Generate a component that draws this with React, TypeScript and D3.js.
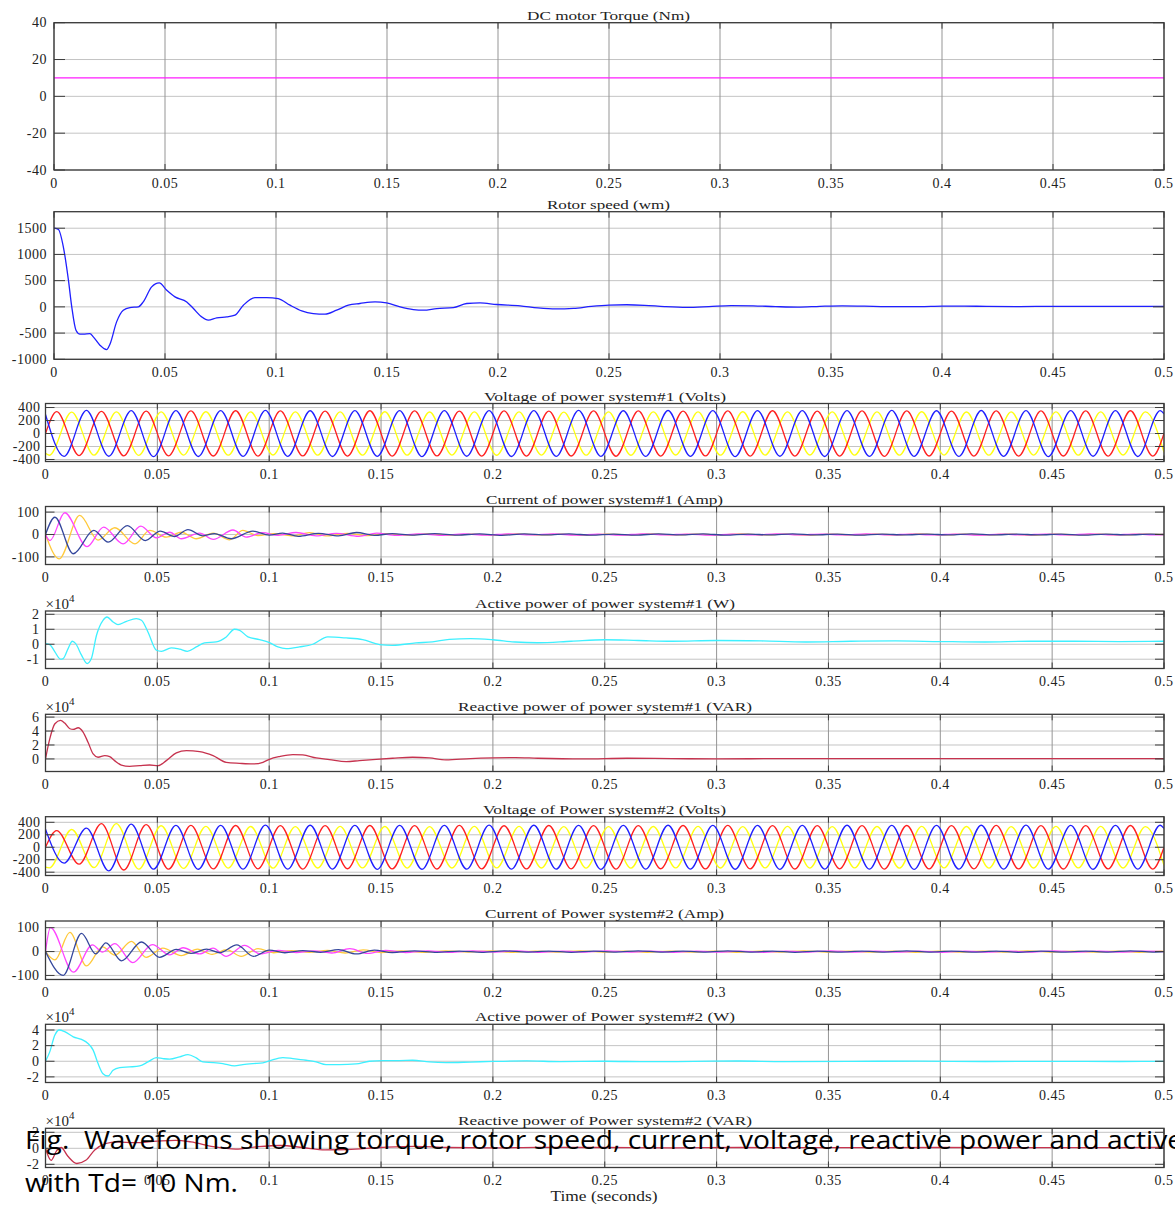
import React from "react";
import * as d3 from "d3";

type Pt = [number, number];

// ---- time axis (seconds) ----
const timeTicks = [0, 0.05, 0.1, 0.15, 0.2, 0.25, 0.3, 0.35, 0.4, 0.45, 0.5];
const timeTickLabels = ["0", "0.05", "0.1", "0.15", "0.2", "0.25", "0.3", "0.35", "0.4", "0.45", "0.5"];

// ---- DC motor torque (Nm) ----
const torque: Pt[] = [[0, 10], [0.5, 10]];

// ---- rotor speed (wm) ----
const rotorSpeed: Pt[] = [
  [0, 1500], [0.002, 1475], [0.0042, 1145], [0.0065, 509], [0.008, 0], [0.0099, -445], [0.0117, -520],
  [0.0132, -520], [0.0162, -509], [0.0177, -572], [0.0207, -731], [0.0237, -814], [0.0252, -712],
  [0.0282, -286], [0.0312, -64], [0.0342, -13], [0.038, 0], [0.0402, 95], [0.044, 382], [0.0474, 458],
  [0.0508, 318], [0.0545, 191], [0.0598, 95], [0.0628, -32], [0.0665, -191], [0.0695, -254],
  [0.0733, -210], [0.0778, -191], [0.0815, -159], [0.0853, 32], [0.0905, 178], [0.0958, 178],
  [0.101, 159], [0.1063, 32], [0.1116, -76], [0.1168, -127], [0.1221, -140], [0.1273, -64],
  [0.1326, 32], [0.1378, 64], [0.1446, 95], [0.1498, 76], [0.1559, 0], [0.1619, -51], [0.1664, -64],
  [0.1724, -32], [0.1799, -13], [0.1859, 64], [0.1919, 76], [0.1994, 45], [0.21, 20], [0.218, -20],
  [0.226, -40], [0.234, -30], [0.242, 10], [0.25, 35], [0.258, 40], [0.266, 30], [0.275, 5],
  [0.285, -10], [0.295, 5], [0.305, 25], [0.315, 20], [0.325, 5], [0.335, -5], [0.345, 10],
  [0.355, 20], [0.365, 15], [0.375, 5], [0.39, 5], [0.4, 15], [0.41, 15], [0.42, 8], [0.435, 5],
  [0.45, 10], [0.465, 10], [0.48, 8], [0.5, 8],
];

// ---- three-phase voltages: extremum times per phase ----
const vTimesA = [0, 0.005, 0.015, 0.025, 0.035, 0.045, 0.055, 0.065, 0.075, 0.085, 0.095,
  0.105, 0.115, 0.125, 0.135, 0.145, 0.155, 0.165, 0.175, 0.185, 0.195,
  0.205, 0.215, 0.225, 0.235, 0.245, 0.255, 0.265, 0.275, 0.285, 0.295,
  0.305, 0.315, 0.325, 0.335, 0.345, 0.355, 0.365, 0.375, 0.385, 0.395,
  0.405, 0.415, 0.425, 0.435, 0.445, 0.455, 0.465, 0.475, 0.485, 0.495, 0.5];
const vTimesB = [0, 0.0017, 0.0117, 0.0217, 0.0317, 0.0417, 0.0517, 0.0617, 0.0717, 0.0817, 0.0917,
  0.1017, 0.1117, 0.1217, 0.1317, 0.1417, 0.1517, 0.1617, 0.1717, 0.1817, 0.1917,
  0.2017, 0.2117, 0.2217, 0.2317, 0.2417, 0.2517, 0.2617, 0.2717, 0.2817, 0.2917,
  0.3017, 0.3117, 0.3217, 0.3317, 0.3417, 0.3517, 0.3617, 0.3717, 0.3817, 0.3917,
  0.4017, 0.4117, 0.4217, 0.4317, 0.4417, 0.4517, 0.4617, 0.4717, 0.4817, 0.4917, 0.5];
const vTimesC = [0, 0.0083, 0.0183, 0.0283, 0.0383, 0.0483, 0.0583, 0.0683, 0.0783, 0.0883, 0.0983,
  0.1083, 0.1183, 0.1283, 0.1383, 0.1483, 0.1583, 0.1683, 0.1783, 0.1883, 0.1983,
  0.2083, 0.2183, 0.2283, 0.2383, 0.2483, 0.2583, 0.2683, 0.2783, 0.2883, 0.2983,
  0.3083, 0.3183, 0.3283, 0.3383, 0.3483, 0.3583, 0.3683, 0.3783, 0.3883, 0.3983,
  0.4083, 0.4183, 0.4283, 0.4383, 0.4483, 0.4583, 0.4683, 0.4783, 0.4883, 0.4983, 0.5];

// power system #1 voltages (V)
const volt1Red = [0,
  338, -340, 342, -344, 346, -343, 348, -346, 350, -348,
  347, -345, 346, -348, 350, -349, 347, -345, 346, -348,
  349, -347, 345, -346, 348, -350, 349, -347, 346, -345,
  347, -349, 350, -348, 346, -347, 349, -351, 348, -346,
  345, -347, 349, -348, 347, -346, 348, -349, 350, -348, 0];
const volt1Yellow = [-305,
  -335, 330, -333, 332, -336, 334, -332, 335, -334, 333,
  -331, 334, -333, 332, -334, 335, -333, 331, -332, 334,
  -335, 333, -332, 330, -333, 334, -335, 333, -331, 332,
  -334, 335, -333, 332, -331, 333, -334, 332, -333, 335,
  -332, 331, -334, 333, -332, 334, -333, 332, -331, 333, -288];
const volt1Blue = [292,
  -352, 355, -350, 353, -356, 352, -354, 351, -353, 355,
  -352, 350, -354, 353, -351, 352, -355, 353, -350, 352,
  -354, 351, -353, 355, -352, 350, -353, 354, -351, 352,
  -355, 353, -350, 352, -354, 351, -353, 355, -352, 350,
  -353, 354, -351, 352, -355, 353, -350, 352, -354, 351, 304];

// power system #2 voltages (V)
const volt2Red = [0,
  268, -272, 378, -365, 362, -352, 350, -347, 349, -346,
  348, -350, 347, -345, 349, -348, 346, -349, 350, -347,
  345, -348, 349, -346, 348, -350, 347, -345, 349, -348,
  350, -347, 346, -349, 348, -346, 347, -350, 349, -347,
  348, -346, 350, -348, 347, -349, 346, -348, 349, -350, 0];
const volt2Yellow = [-318,
  -330, 285, -325, 378, -352, 345, -340, 336, -334, 333,
  -335, 332, -333, 334, -331, 333, -334, 332, -333, 335,
  -332, 334, -333, 331, -334, 332, -335, 333, -332, 334,
  -333, 331, -332, 335, -334, 332, -331, 333, -335, 334,
  -332, 333, -334, 331, -333, 335, -332, 334, -333, 332, -290];
const volt2Blue = [290,
  -255, 308, -378, 370, -352, 350, -353, 352, -351, 354,
  -352, 353, -350, 352, -354, 351, -353, 350, -352, 354,
  -351, 353, -352, 350, -354, 352, -351, 353, -350, 352,
  -353, 351, -354, 352, -350, 353, -352, 351, -354, 350,
  -352, 353, -351, 354, -352, 350, -353, 352, -351, 353, 302];

// ---- currents of power system #1 (A) ----
const cur1Navy: Pt[] = [
  [0, 0], [0.0042, 77], [0.0124, -86], [0.0216, 18], [0.028, -34], [0.0366, 40], [0.0446, -27],
  [0.0513, 15], [0.0577, -9], [0.0637, 22], [0.0704, -6], [0.0755, 4], [0.083, -19], [0.0927, 15],
  [0.1, -3], [0.106, 6], [0.113, -8], [0.122, 5], [0.131, -6], [0.139, 9], [0.147, -4], [0.155, 4],
  [0.164, -3], [0.174, 4], [0.184, -3], [0.194, 3], [0.204, -4], [0.214, 3], [0.224, -2], [0.234, 3],
  [0.244, -3], [0.254, 2], [0.264, -3], [0.274, 3], [0.284, -2], [0.294, 3], [0.304, -3], [0.314, 2],
  [0.324, -2], [0.334, 3], [0.344, -2], [0.354, 2], [0.364, -3], [0.374, 2], [0.384, -2], [0.394, 2],
  [0.404, -2], [0.414, 3], [0.424, -2], [0.434, 2], [0.444, -2], [0.454, 2], [0.464, -3], [0.474, 2],
  [0.484, -2], [0.494, 2], [0.5, 0],
];
const cur1Magenta: Pt[] = [
  [0, 0], [0.002, -27], [0.0086, 97], [0.0186, -54], [0.026, 33], [0.0347, -42], [0.0426, 37],
  [0.0496, -15], [0.0555, 10], [0.0607, -19], [0.0689, 6], [0.075, -22], [0.0838, 20], [0.0897, -12],
  [0.097, 8], [0.104, -4], [0.112, 9], [0.121, -6], [0.13, 5], [0.14, -8], [0.148, 6], [0.157, -4],
  [0.167, 3], [0.177, -4], [0.187, 3], [0.197, -3], [0.207, 3], [0.217, -2], [0.227, 3], [0.237, -3],
  [0.247, 2], [0.257, -3], [0.267, 3], [0.277, -2], [0.287, 2], [0.297, -3], [0.307, 2], [0.317, -2],
  [0.327, 3], [0.337, -2], [0.347, 2], [0.357, -2], [0.367, 3], [0.377, -2], [0.387, 2], [0.397, -2],
  [0.407, 2], [0.417, -3], [0.427, 2], [0.437, -2], [0.447, 2], [0.457, -2], [0.467, 3], [0.477, -2],
  [0.487, 2], [0.497, -2], [0.5, 0],
];
const cur1Gold: Pt[] = [
  [0, 0], [0.0061, -109], [0.0153, 85], [0.0235, -25], [0.031, 30], [0.04, -42], [0.0466, 18],
  [0.054, -12], [0.0607, 10], [0.0674, -19], [0.075, 6], [0.0823, -24], [0.0882, 18], [0.095, -5],
  [0.102, 4], [0.11, -6], [0.118, 8], [0.126, -6], [0.135, 5], [0.144, -5], [0.152, 4], [0.161, -3],
  [0.171, 3], [0.181, -3], [0.191, 2], [0.201, -3], [0.211, 3], [0.221, -2], [0.231, 2], [0.241, -3],
  [0.251, 2], [0.261, -2], [0.271, 3], [0.281, -2], [0.291, 2], [0.301, -2], [0.311, 3], [0.321, -2],
  [0.331, 2], [0.341, -3], [0.351, 2], [0.361, -2], [0.371, 2], [0.381, -2], [0.391, 3], [0.401, -2],
  [0.411, 2], [0.421, -2], [0.431, 2], [0.441, -3], [0.451, 2], [0.461, -2], [0.471, 2], [0.481, -2],
  [0.491, 2], [0.5, 0],
];

// ---- active / reactive power of power system #1 (x10^4) ----
const active1: Pt[] = [
  [0, 0.04], [0.0019, -0.02], [0.0042, -0.51], [0.0067, -1.0], [0.0079, -0.96], [0.0101, -0.29],
  [0.012, 0.2], [0.0135, 0.04], [0.0161, -0.73], [0.0186, -1.29], [0.0205, -0.96], [0.0228, 0.6],
  [0.0257, 1.6], [0.0275, 1.82], [0.0302, 1.49], [0.0324, 1.31], [0.0362, 1.53], [0.0406, 1.71],
  [0.0429, 1.6], [0.0458, 0.82], [0.0496, -0.4], [0.0518, -0.47], [0.0562, -0.24], [0.06, -0.33],
  [0.0634, -0.47], [0.0674, -0.18], [0.0711, 0.09], [0.0763, 0.16], [0.0808, 0.49], [0.0845, 1.0],
  [0.0868, 0.93], [0.0905, 0.49], [0.0957, 0.31], [0.1001, 0.11], [0.1039, -0.18], [0.1076, -0.29],
  [0.1135, -0.18], [0.1195, 0], [0.1262, 0.49], [0.1344, 0.42], [0.1418, 0.31], [0.1493, -0.02],
  [0.1552, -0.07], [0.1656, 0.09], [0.173, 0.16], [0.1805, 0.33], [0.19, 0.38], [0.2, 0.3],
  [0.21, 0.15], [0.22, 0.1], [0.235, 0.2], [0.25, 0.3], [0.265, 0.25], [0.28, 0.2], [0.3, 0.25],
  [0.32, 0.22], [0.34, 0.15], [0.36, 0.2], [0.38, 0.22], [0.4, 0.18], [0.42, 0.15], [0.44, 0.2],
  [0.46, 0.2], [0.48, 0.18], [0.5, 0.2],
];
const reactive1: Pt[] = [
  [0, 0], [0.0019, 2.88], [0.0042, 5.05], [0.0067, 5.53], [0.0086, 5.14], [0.0109, 4.33],
  [0.0124, 4.23], [0.0146, 4.47], [0.0168, 3.85], [0.019, 2.4], [0.0213, 0.72], [0.0235, 0.24],
  [0.0265, 0.48], [0.0287, 0.34], [0.0309, -0.24], [0.0339, -0.87], [0.0376, -1.06], [0.0421, -0.96],
  [0.0466, -0.87], [0.0503, -0.96], [0.054, -0.24], [0.0585, 0.87], [0.063, 1.2], [0.0689, 1.06],
  [0.0749, 0.48], [0.0808, -0.48], [0.0868, -0.63], [0.0927, -0.72], [0.0972, -0.48], [0.1001, -0.05],
  [0.1046, 0.34], [0.1106, 0.63], [0.115, 0.58], [0.121, 0.14], [0.1269, -0.1], [0.1344, -0.38],
  [0.1403, -0.24], [0.1478, -0.05], [0.1552, 0.1], [0.1641, 0.24], [0.1716, 0.14], [0.179, -0.14],
  [0.19, 0.05], [0.2, 0.15], [0.21, 0.2], [0.22, 0.1], [0.24, 0], [0.26, 0.1], [0.28, 0.05],
  [0.3, 0], [0.33, 0.06], [0.36, 0.04], [0.4, 0.05], [0.44, 0.04], [0.5, 0.05],
];

// ---- currents of power system #2 (A) ----
const cur2Magenta: Pt[] = [
  [0, 0], [0.0022, 100], [0.0125, -86], [0.021, 28], [0.0255, -2], [0.031, 33], [0.039, -46],
  [0.0478, 29], [0.0555, -14], [0.0615, 16], [0.0689, -10], [0.0749, 14], [0.0808, -20], [0.089, 26],
  [0.096, -10], [0.104, 5], [0.112, -4], [0.12, 3], [0.128, -6], [0.136, 12], [0.144, -8], [0.152, 5],
  [0.161, -4], [0.171, 3], [0.181, -3], [0.191, 3], [0.201, -2], [0.211, 3], [0.221, -3], [0.231, 2],
  [0.241, -2], [0.251, 3], [0.261, -2], [0.271, 2], [0.281, -3], [0.291, 2], [0.301, -2], [0.311, 2],
  [0.321, -3], [0.331, 2], [0.341, -2], [0.351, 3], [0.361, -2], [0.371, 2], [0.381, -2], [0.391, 2],
  [0.401, -3], [0.411, 2], [0.421, -2], [0.431, 2], [0.441, -2], [0.451, 3], [0.461, -2], [0.471, 2],
  [0.481, -2], [0.491, 2], [0.5, 0],
];
const cur2Gold: Pt[] = [
  [0, 0], [0.0042, -35], [0.0109, 80], [0.0183, -60], [0.0255, 20], [0.031, -15], [0.0384, 43],
  [0.045, -24], [0.0525, 14], [0.0607, -17], [0.068, 10], [0.0745, -12], [0.081, 8], [0.0875, -20],
  [0.095, 12], [0.102, -5], [0.11, 4], [0.118, -3], [0.126, 5], [0.134, -6], [0.142, 7], [0.15, -4],
  [0.159, 3], [0.169, -3], [0.179, 3], [0.189, -2], [0.199, 3], [0.209, -3], [0.219, 2], [0.229, -2],
  [0.239, 3], [0.249, -2], [0.259, 2], [0.269, -3], [0.279, 2], [0.289, -2], [0.299, 2], [0.309, -3],
  [0.319, 2], [0.329, -2], [0.339, 3], [0.349, -2], [0.359, 2], [0.369, -2], [0.379, 2], [0.389, -3],
  [0.399, 2], [0.409, -2], [0.419, 2], [0.429, -2], [0.439, 3], [0.449, -2], [0.459, 2], [0.469, -2],
  [0.479, 2], [0.489, -3], [0.499, 2], [0.5, 0],
];
const cur2Navy: Pt[] = [
  [0, 0], [0.0079, -100], [0.0161, 76], [0.0225, -10], [0.027, 36], [0.034, -39], [0.0429, 40],
  [0.051, -24], [0.0585, 9], [0.065, -8], [0.072, 10], [0.078, -5], [0.0855, 28], [0.093, -20],
  [0.1, 6], [0.107, -5], [0.115, 4], [0.123, -3], [0.131, 8], [0.139, -10], [0.147, 6], [0.155, -4],
  [0.165, 3], [0.175, -3], [0.185, 2], [0.195, -3], [0.205, 3], [0.215, -2], [0.225, 2], [0.235, -3],
  [0.245, 2], [0.255, -2], [0.265, 3], [0.275, -2], [0.285, 2], [0.295, -2], [0.305, 3], [0.315, -2],
  [0.325, 2], [0.335, -3], [0.345, 2], [0.355, -2], [0.365, 2], [0.375, -2], [0.385, 3], [0.395, -2],
  [0.405, 2], [0.415, -2], [0.425, 2], [0.435, -3], [0.445, 2], [0.455, -2], [0.465, 2], [0.475, -2],
  [0.485, 3], [0.495, -2], [0.5, 0],
];

// ---- active / reactive power of power system #2 (x10^4) ----
const active2: Pt[] = [
  [0, 0], [0.0019, 1.2], [0.0042, 3.35], [0.0061, 4.0], [0.0086, 3.78], [0.0124, 3.13], [0.0161, 2.79],
  [0.019, 2.27], [0.0213, 1.42], [0.0235, -0.3], [0.0257, -1.59], [0.028, -1.89], [0.0302, -1.16],
  [0.0332, -0.82], [0.0376, -0.73], [0.0421, -0.6], [0.0458, -0.09], [0.0496, 0.47], [0.0525, 0.34],
  [0.0555, 0.26], [0.06, 0.56], [0.0637, 0.86], [0.0674, 0.43], [0.0704, -0.09], [0.0749, -0.17],
  [0.0793, -0.3], [0.0845, -0.6], [0.0882, -0.43], [0.0927, -0.3], [0.0972, -0.21], [0.1001, 0.04],
  [0.1061, 0.47], [0.1106, 0.34], [0.1165, 0.13], [0.121, -0.09], [0.1254, -0.43], [0.1314, -0.43],
  [0.1388, -0.34], [0.1448, 0], [0.1507, 0.09], [0.1582, 0.09], [0.1641, 0.13], [0.1716, -0.09],
  [0.179, -0.17], [0.19, -0.1], [0.2, -0.02], [0.215, 0.05], [0.23, -0.05], [0.25, 0], [0.27, -0.06],
  [0.29, -0.02], [0.31, 0.03], [0.33, -0.04], [0.36, -0.02], [0.39, 0.02], [0.42, -0.03],
  [0.45, -0.01], [0.48, -0.03], [0.5, -0.02],
];
const reactive2: Pt[] = [
  [0, 0], [0.0025, -1.5], [0.005, -0.3], [0.007, 0.1], [0.01, -1.0], [0.014, -1.9], [0.018, -1.5],
  [0.022, -0.2], [0.027, 0.6], [0.032, 0.8], [0.04, 0.7], [0.05, 0.9], [0.058, 1.0], [0.065, 0.8],
  [0.075, 0.2], [0.085, -0.1], [0.095, 0.2], [0.105, 0.35], [0.115, 0.1], [0.125, -0.2], [0.135, -0.15],
  [0.15, 0.1], [0.165, 0.25], [0.18, 0.1], [0.2, 0.05], [0.22, 0.12], [0.25, 0.1], [0.28, 0.05],
  [0.31, 0.1], [0.35, 0.08], [0.4, 0.1], [0.45, 0.08], [0.5, 0.1],
];

// ---- y tick values per panel ----
const torqueTicks = [40, 20, 0, -20, -40];
const speedTicks = [1500, 1000, 500, 0, -500, -1000];
const voltTicks = [400, 200, 0, -200, -400];
const currentTicks = [100, 0, -100];
const active1Ticks = [2, 1, 0, -1];
const reactive1Ticks = [6, 4, 2, 0];
const active2Ticks = [4, 2, 0, -2];
const reactive2Ticks = [2, 0, -2];

const zip = (t: number[], v: number[]): Pt[] => t.map((ti, i) => [ti, v[i]]);

const C = {
  magenta: "#ff1cff",
  blue: "#1f1fff",
  red: "#ff2020",
  yellow: "#ffff10",
  curMagenta: "#ff44ff",
  curGold: "#ffc93a",
  curNavy: "#34479c",
  cyan: "#3ef0ff",
  crimson: "#c6324e",
};

interface Series { data: Pt[]; color: string }
interface PanelCfg {
  title: string;
  span: [number, number];
  left: number; right: number; top: number; bottom: number;
  yDomain: [number, number];
  yTicks: number[];
  labelGap: number;
  exponent?: boolean;
  series: Series[];
}

const L1 = 54, L2 = 45.5, R = 1164;

const panels: PanelCfg[] = [
  { title: "DC motor Torque (Nm)", span: [527, 690], left: L1, right: R, top: 22.7, bottom: 170,
    yDomain: [-40, 40], yTicks: torqueTicks, labelGap: 7, series: [{ data: torque, color: C.magenta }] },
  { title: "Rotor speed (wm)", span: [547, 670], left: L1, right: R, top: 211.7, bottom: 359.3,
    yDomain: [-1000, 1815], yTicks: speedTicks, labelGap: 7, series: [{ data: rotorSpeed, color: C.blue }] },
  { title: "Voltage of power system#1 (Volts)", span: [484, 726], left: L2, right: R, top: 403.5, bottom: 461.5,
    yDomain: [-431, 462], yTicks: voltTicks, labelGap: 5,
    series: [
      { data: zip(vTimesB, volt1Yellow), color: C.yellow },
      { data: zip(vTimesA, volt1Red), color: C.red },
      { data: zip(vTimesC, volt1Blue), color: C.blue },
    ] },
  { title: "Current of power system#1 (Amp)", span: [486, 723], left: L2, right: R, top: 506.5, bottom: 564.5,
    yDomain: [-134, 125], yTicks: currentTicks, labelGap: 6,
    series: [
      { data: cur1Gold, color: C.curGold },
      { data: cur1Magenta, color: C.curMagenta },
      { data: cur1Navy, color: C.curNavy },
    ] },
  { title: "Active power of power system#1 (W)", span: [475, 735], left: L2, right: R, top: 611, bottom: 668.5,
    yDomain: [-1.62, 2.22], yTicks: active1Ticks, labelGap: 6, exponent: true,
    series: [{ data: active1, color: C.cyan }] },
  { title: "Reactive power of power system#1 (VAR)", span: [458, 752], left: L2, right: R, top: 714.3, bottom: 771.5,
    yDomain: [-1.8, 6.4], yTicks: reactive1Ticks, labelGap: 6, exponent: true,
    series: [{ data: reactive1, color: C.crimson }] },
  { title: "Voltage of Power system#2 (Volts)", span: [483, 726], left: L2, right: R, top: 816.7, bottom: 875.5,
    yDomain: [-453, 490], yTicks: voltTicks, labelGap: 5,
    series: [
      { data: zip(vTimesB, volt2Yellow), color: C.yellow },
      { data: zip(vTimesA, volt2Red), color: C.red },
      { data: zip(vTimesC, volt2Blue), color: C.blue },
    ] },
  { title: "Current of Power system#2 (Amp)", span: [485, 724], left: L2, right: R, top: 921, bottom: 979.5,
    yDomain: [-117, 128], yTicks: currentTicks, labelGap: 6,
    series: [
      { data: cur2Gold, color: C.curGold },
      { data: cur2Magenta, color: C.curMagenta },
      { data: cur2Navy, color: C.curNavy },
    ] },
  { title: "Active power of Power system#2 (W)", span: [475, 735], left: L2, right: R, top: 1024.3, bottom: 1082.5,
    yDomain: [-2.72, 4.73], yTicks: active2Ticks, labelGap: 6, exponent: true,
    series: [{ data: active2, color: C.cyan }] },
  { title: "Reactive power of Power system#2 (VAR)", span: [458, 752], left: L2, right: R, top: 1128.3, bottom: 1167.5,
    yDomain: [-2.4, 2.5], yTicks: reactive2Ticks, labelGap: 6, exponent: true,
    series: [{ data: reactive2, color: C.crimson }] },
];

const SERIF = "'Liberation Serif', 'Times New Roman', Times, serif";

function Panel({ cfg, idx }: { cfg: PanelCfg; idx: number }) {
  const x = d3.scaleLinear().domain([0, 0.5]).range([cfg.left, cfg.right]);
  const y = d3.scaleLinear().domain(cfg.yDomain).range([cfg.bottom, cfg.top]);
  const line = d3.line<Pt>().x(d => x(d[0])).y(d => y(d[1])).curve(d3.curveMonotoneX);
  const clipId = `clip-${idx}`;
  const w = cfg.right - cfg.left;
  const h = cfg.bottom - cfg.top;
  const tick = h > 100 ? 11 : 9;
  return (
    <g>
      <defs>
        <clipPath id={clipId}>
          <rect x={cfg.left} y={cfg.top} width={w} height={h} />
        </clipPath>
      </defs>
      {cfg.yTicks.map(t => (
        <line key={"h" + t} x1={cfg.left} x2={cfg.right} y1={y(t)} y2={y(t)} stroke="#c4c4c4" strokeWidth={1} />
      ))}
      {timeTicks.map(t => (
        <line key={"v" + t} x1={x(t)} x2={x(t)} y1={cfg.top} y2={cfg.bottom} stroke="#959595" strokeWidth={1} />
      ))}
      <g clipPath={`url(#${clipId})`}>
        {cfg.series.map((s, i) => (
          <path key={i} d={line(s.data) || ""} fill="none" stroke={s.color} strokeWidth={1.3} strokeLinejoin="round" />
        ))}
      </g>
      {cfg.yTicks.map(t => (
        <g key={"yt" + t} stroke="#3c3c3c" strokeWidth={1}>
          <line x1={cfg.left} x2={cfg.left + tick} y1={y(t)} y2={y(t)} />
          <line x1={cfg.right - tick} x2={cfg.right} y1={y(t)} y2={y(t)} />
        </g>
      ))}
      {timeTicks.map(t => (
        <g key={"xt" + t} stroke="#3c3c3c" strokeWidth={1}>
          <line x1={x(t)} x2={x(t)} y1={cfg.top} y2={cfg.top + 6} />
          <line x1={x(t)} x2={x(t)} y1={cfg.bottom - 6} y2={cfg.bottom} />
        </g>
      ))}
      <rect x={cfg.left} y={cfg.top} width={w} height={h} fill="none" stroke="#3a3a3a" strokeWidth={1.3} />
      <g fontFamily={SERIF} fontSize={14} fill="#222" letterSpacing={0.5}>
        {cfg.yTicks.map(t => (
          <text key={"yl" + t} x={cfg.left - cfg.labelGap} y={y(t) + 4.7} textAnchor="end">{String(t)}</text>
        ))}
        {timeTicks.map((t, i) => (
          <text key={"xl" + t} x={x(t)} y={cfg.bottom + 17.5} textAnchor="middle">{timeTickLabels[i]}</text>
        ))}
      </g>
      <text x={(cfg.span[0] + cfg.span[1]) / 2} y={cfg.top - 3} textAnchor="middle" fontFamily={SERIF}
        fontSize={13} fill="#222" textLength={cfg.span[1] - cfg.span[0]} lengthAdjust="spacingAndGlyphs">
        {cfg.title}
      </text>
      {cfg.exponent && (
        <text x={cfg.left} y={cfg.top - 2} fontFamily={SERIF} fontSize={15} fill="#222">
          ×10<tspan dy={-7} fontSize={11}>4</tspan>
        </text>
      )}
    </g>
  );
}

export default function App() {
  return (
    <div style={{ position: "absolute", left: 0, top: 0 }}>
      <svg width={1175} height={1205} style={{ display: "block", background: "#fff" }}>
        <rect x={0} y={0} width={1175} height={1205} fill="#fff" />
        {panels.map((p, i) => <Panel key={i} cfg={p} idx={i} />)}
        <text x={604} y={1201} textAnchor="middle" fontFamily={SERIF} fontSize={14} fill="#222"
          textLength={107} lengthAdjust="spacingAndGlyphs">Time (seconds)</text>
        <g fontFamily="'Open Sans', 'Liberation Sans', Arial, sans-serif" fontSize={26} fill="#000">
          <text x={25} y={1149} textLength={1158} lengthAdjust="spacingAndGlyphs"
            xmlSpace="preserve" style={{ whiteSpace: "pre" }}>
            {"Fig.  Waveforms showing torque, rotor speed, current, voltage, reactive power and active"}
          </text>
          <text x={25} y={1192} textLength={213} lengthAdjust="spacingAndGlyphs"
            style={{ whiteSpace: "pre" }}>{"with Td= 10 Nm."}</text>
        </g>
      </svg>
    </div>
  );
}
